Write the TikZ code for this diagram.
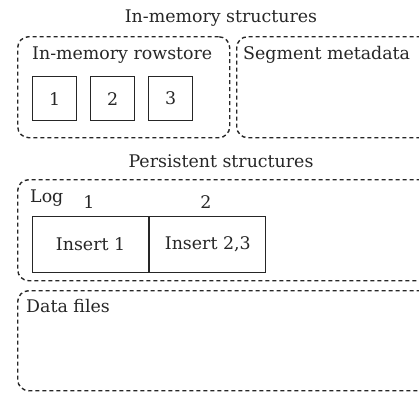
\documentclass[tikz,border=0pt]{standalone}
\usepackage{fontspec}
\setmainfont{DejaVu Serif}
\begin{document}
\begin{tikzpicture}[x=1pt,y=-1pt,
  every node/.style={font=\fontsize{17.4}{20}\selectfont, text=black!85, inner sep=0pt},
  group/.style={draw=black!85, line width=1.4pt, dash pattern=on 4pt off 3pt,
    rounded corners=11pt, anchor=north west},
  cell/.style={draw=black!85, line width=1.2pt, anchor=north west},
  sq/.style={cell, minimum width=44pt, minimum height=44pt},
  logcell/.style={cell, minimum width=116pt, minimum height=56pt},
  caption/.style={anchor=base west}]
\useasboundingbox (0,0) rectangle (419,394);

% in-memory part
\node (memtitle) at (221,18) {In-memory structures};
\node[group, minimum width=212pt, minimum height=101pt] (rowstore) at (17,36) {};
\node[group, minimum width=230pt, minimum height=101pt] (segmeta) at (236,36) {};
\node[caption] (rowstoretxt) at (32,59) {In-memory rowstore};
\node[caption] (segmetatxt) at (243,59) {Segment metadata};
\node[sq] (r1) at (32,76) {1};
\node[sq] (r2) at (90,76) {2};
\node[sq] (r3) at (148,76) {3};

% persistent part
\node (pertitle) at (221,161) {Persistent structures};
\node[group, minimum width=449pt, minimum height=101pt] (logbox) at (17,179) {};
\node[caption] (logtxt) at (30,202) {Log};
\node[logcell] (ins1) at (32,216) {Insert 1};
\node[logcell] (ins2) at (ins1.north east) {Insert 2,3};
\node (lsn1) at (89,202) {1};
\node (lsn2) at (206,202) {2};
\node[group, minimum width=449pt, minimum height=100pt] (datafiles) at (17,290) {};
\node[caption] (datatxt) at (26,312) {Data files};
\end{tikzpicture}
\end{document}
